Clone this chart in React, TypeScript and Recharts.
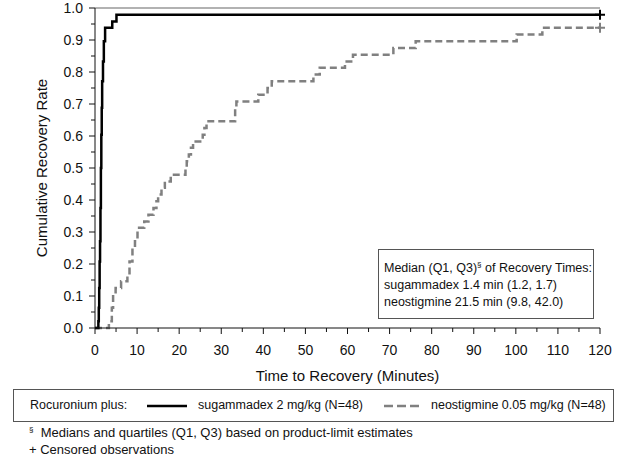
import { ComposedChart, Line, Scatter, XAxis, YAxis, ReferenceLine } from 'recharts';

// Kaplan-Meier style cumulative recovery curves (time in minutes, cumulative rate)
const sugTimes = [0, 0.8, 0.9, 1.0, 1.1, 1.2, 1.3, 1.4, 1.5, 1.6, 1.7, 1.9, 2.1, 2.4, 4.1, 5.1, 120];
const sugRates = [0, 0.021, 0.063, 0.125, 0.208, 0.271, 0.375, 0.5, 0.604, 0.688, 0.771, 0.833, 0.896, 0.938, 0.958, 0.979, 0.979];

const neoTimes = [
  0, 3.3, 4.0, 4.3, 4.9, 6.2, 7.7, 8.2, 8.9, 9.5, 10.1, 11.7, 12.7, 13.9, 14.6, 15.0, 15.8, 16.6, 18.0, 21.5,
  21.8, 22.3, 22.8, 23.3, 25.6, 26.0, 26.5, 33.3, 33.6, 38.8, 41.0, 42.0, 51.9, 53.4, 59.4, 61.3, 70.9, 76.2,
  100.2, 106.3, 120,
];
const neoRates = [
  0, 0.021, 0.063, 0.104, 0.125, 0.146, 0.167, 0.208, 0.25, 0.271, 0.313, 0.333, 0.354, 0.375, 0.396, 0.417,
  0.438, 0.458, 0.479, 0.5, 0.521, 0.542, 0.563, 0.583, 0.604, 0.625, 0.646, 0.688, 0.708, 0.729, 0.75, 0.771,
  0.792, 0.813, 0.833, 0.854, 0.875, 0.896, 0.917, 0.938, 0.938,
];

// censored observations at end of follow-up
const censorTimes = [120, 120];
const censorRates = [0.979, 0.938];

const xTicks = [0, 5, 10, 15, 20, 25, 30, 35, 40, 45, 50, 55, 60, 65, 70, 75, 80, 85, 90, 95, 100, 105, 110, 115, 120];
const yTicks = [0, 0.05, 0.1, 0.15, 0.2, 0.25, 0.3, 0.35, 0.4, 0.45, 0.5, 0.55, 0.6, 0.65, 0.7, 0.75, 0.8, 0.85, 0.9, 0.95, 1];

const sugData = sugTimes.map((t, i) => ({ t, r: sugRates[i] }));
const neoData = neoTimes.map((t, i) => ({ t, r: neoRates[i] }));
const censorData = censorTimes.map((t, i) => ({ t, r: censorRates[i] }));

const FONT = '"Liberation Sans", Arial, sans-serif';

function XTick({ x, y, payload }: any) {
  const major = payload.value % 10 === 0;
  return (
    <g>
      <line x1={x} x2={x} y1={y} y2={y + (major ? 6 : 4)} stroke="#111" strokeWidth={1} />
      {major && (
        <text x={x} y={y + 27} textAnchor="middle" fontSize={14} fill="#111" fontFamily={FONT}>
          {payload.value}
        </text>
      )}
    </g>
  );
}

function YTick({ x, y, payload }: any) {
  const major = Math.round(payload.value * 100) % 10 === 0;
  return (
    <g>
      <line x1={x} x2={x - (major ? 6 : 4)} y1={y} y2={y} stroke="#111" strokeWidth={1} />
      {major && (
        <text x={x - 12} y={y + 5} textAnchor="end" fontSize={14} fill="#111" fontFamily={FONT}>
          {payload.value.toFixed(1)}
        </text>
      )}
    </g>
  );
}

function YLabel() {
  return (
    <text x={47} y={168} transform="rotate(-90 47 168)" textAnchor="middle" fontSize={15} fill="#111" fontFamily={FONT}>
      Cumulative Recovery Rate
    </text>
  );
}

function Plus({ cx, cy, fill }: any) {
  return <path d={`M${cx - 5},${cy}h10M${cx},${cy - 5}v10`} stroke={fill} strokeWidth={2} />;
}

export default function App() {
  return (
    <div style={{ position: 'absolute', left: 0, top: 0, width: 619, height: 468, background: '#fff', fontFamily: FONT, color: '#111' }}>
      <ComposedChart width={619} height={385} margin={{ top: 8, right: 19, left: 0, bottom: 0 }}>
        <XAxis
          type="number"
          dataKey="t"
          domain={[0, 120]}
          ticks={xTicks}
          interval={0}
          tickSize={0}
          tickMargin={0}
          tickLine={false}
          tick={<XTick />}
          stroke="#111"
          height={57}
          allowDuplicatedCategory={false}
          label={{ value: 'Time to Recovery (Minutes)', position: 'insideBottom', offset: 4, fontSize: 15, fill: '#111', fontFamily: FONT }}
        />
        <YAxis
          type="number"
          dataKey="r"
          domain={[0, 1]}
          ticks={yTicks}
          interval={0}
          tickSize={0}
          tickMargin={0}
          tickLine={false}
          tick={<YTick />}
          stroke="#111"
          width={95}
          label={<YLabel />}
        />
        <ReferenceLine y={1} stroke="#999" strokeWidth={1.5} />
        <Line
          data={neoData}
          dataKey="r"
          type="stepAfter"
          stroke="#808080"
          strokeWidth={2.5}
          strokeDasharray="7 4"
          dot={false}
          isAnimationActive={false}
        />
        <Line
          data={sugData}
          dataKey="r"
          type="stepAfter"
          stroke="#000"
          strokeWidth={2.5}
          dot={false}
          isAnimationActive={false}
        />
        <Scatter data={censorData.slice(1)} dataKey="r" fill="#808080" shape={<Plus />} isAnimationActive={false} />
        <Scatter data={censorData.slice(0, 1)} dataKey="r" fill="#000" shape={<Plus />} isAnimationActive={false} />
      </ComposedChart>

      <div
        style={{
          position: 'absolute', left: 378, top: 249, width: 216, height: 70, border: '1px solid #555',
          fontSize: 12.5, lineHeight: '17px', padding: '10px 0 0 5px', boxSizing: 'border-box', background: '#fff',
          whiteSpace: 'nowrap',
        }}
      >
        <div>
          Median (Q1, Q3)<sup style={{ fontSize: 8, lineHeight: 0 }}>§</sup> of Recovery Times:
        </div>
        <div>sugammadex 1.4 min (1.2, 1.7)</div>
        <div>neostigmine 21.5 min (9.8, 42.0)</div>
      </div>

      <div
        style={{
          position: 'absolute', left: 13, top: 389, width: 601, height: 33, border: '1px solid #555',
          boxSizing: 'border-box', fontSize: 12.5, whiteSpace: 'nowrap',
        }}
      >
        <span style={{ position: 'absolute', left: 16, top: 8 }}>Rocuronium plus:</span>
        <svg style={{ position: 'absolute', left: 133, top: 14 }} width={40} height={4}>
          <line x1={0} x2={40} y1={2} y2={2} stroke="#000" strokeWidth={2.5} />
        </svg>
        <span style={{ position: 'absolute', left: 184, top: 8 }}>sugammadex 2 mg/kg (N=48)</span>
        <svg style={{ position: 'absolute', left: 370, top: 14 }} width={38} height={4}>
          <line x1={0} x2={38} y1={2} y2={2} stroke="#808080" strokeWidth={2.5} strokeDasharray="9 4" />
        </svg>
        <span style={{ position: 'absolute', left: 417, top: 8 }}>neostigmine 0.05 mg/kg (N=48)</span>
      </div>

      <div style={{ position: 'absolute', left: 29, top: 425, fontSize: 13, whiteSpace: 'nowrap' }}>
        <sup style={{ fontSize: 8 }}>§</sup>&nbsp; Medians and quartiles (Q1, Q3) based on product-limit estimates
      </div>
      <div style={{ position: 'absolute', left: 29, top: 442, fontSize: 13, whiteSpace: 'nowrap' }}>+ Censored observations</div>
    </div>
  );
}
